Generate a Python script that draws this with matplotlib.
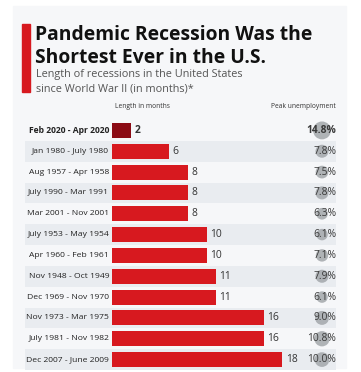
import matplotlib.pyplot as plt
from matplotlib.patches import Rectangle

periods = ["Feb 2020 - Apr 2020", "Jan 1980 - July 1980", "Aug 1957 - Apr 1958",
           "July 1990 - Mar 1991", "Mar 2001 - Nov 2001", "July 1953 - May 1954",
           "Apr 1960 - Feb 1961", "Nov 1948 - Oct 1949", "Dec 1969 - Nov 1970",
           "Nov 1973 - Mar 1975", "July 1981 - Nov 1982", "Dec 2007 - June 2009"]
months = [2, 6, 8, 8, 8, 10, 10, 11, 11, 16, 16, 18]
unemployment = [14.8, 7.8, 7.5, 7.8, 6.3, 6.1, 7.1, 7.9, 6.1, 9.0, 10.8, 10.0]

W, H = 361, 372
plt.rcParams['font.family'] = ['Open Sans', 'DejaVu Sans']
fig = plt.figure(figsize=(W / 100, H / 100), dpi=100)
fig.patch.set_facecolor('white')

# card background + red accent bar
fig.add_artist(Rectangle((13 / W, 1 - 368 / H), 333 / W, 362 / H,
                         transform=fig.transFigure, color='#f6f7f9', zorder=0))
fig.add_artist(Rectangle((22 / W, 1 - 92 / H), 8 / W, 68 / H,
                         transform=fig.transFigure, color='#d7191f', zorder=1))

fig.text(35 / W, 1 - 35 / H, "Pandemic Recession Was the", fontsize=13.9,
         fontweight='bold', color='#111111', va='center')
fig.text(35 / W, 1 - 58 / H, "Shortest Ever in the U.S.", fontsize=13.9,
         fontweight='bold', color='#111111', va='center')
fig.text(36 / W, 1 - 75 / H, "Length of recessions in the United States",
         fontsize=7.8, color='#555555', va='center')
fig.text(36 / W, 1 - 89 / H, "since World War II (in months)*",
         fontsize=7.8, color='#555555', va='center')
fig.text(142 / W, 1 - 107 / H, "Length in months", fontsize=4.8,
         color='#333333', ha='center', va='center')
fig.text(336 / W, 1 - 107 / H, "Peak unemployment", fontsize=4.8,
         color='#333333', ha='right', va='center')

# main axes: rows
top, bottom = 120, 370
ax = fig.add_axes([25 / W, 1 - bottom / H, 311 / W, (bottom - top) / H])
ax.set_facecolor('none')
ppm = 9.47  # pixels per month
ax.set_xlim(-87 / ppm, 224 / ppm)
n = len(periods)
ax.set_ylim(n - 0.5, -0.5)
ax.axis('off')

for i in range(n):
    if i % 2 == 1:
        ax.axhspan(i - 0.5, i + 0.5, color='#e9ecf0', zorder=0, lw=0)

colors = ['#8b0b14'] + ['#d7191f'] * (n - 1)
ax.barh(range(n), months, height=0.72, color=colors, zorder=2)

for i, (p, m, u) in enumerate(zip(periods, months, unemployment)):
    ax.text(-0.3, i, p, ha='right', va='center', fontsize=6.1,
            color='#222222', fontweight='bold' if i == 0 else 'normal')
    ax.text(m + 0.35, i, str(m), ha='left', va='center', fontsize=7.4,
            color='#333333', fontweight='bold' if i == 0 else 'normal')
    ax.text(224 / ppm, i, f"{u:.1f}%", ha='right', va='center', fontsize=7.4,
            color='#3a3a3a', zorder=4, fontweight='bold' if i == 0 else 'normal')

ax.scatter([210 / ppm] * n, range(n), s=[u * 11.2 for u in unemployment],
           color='#a3a7ab', alpha=0.85, zorder=3, lw=0)

fig.savefig('out.png', dpi=100)
